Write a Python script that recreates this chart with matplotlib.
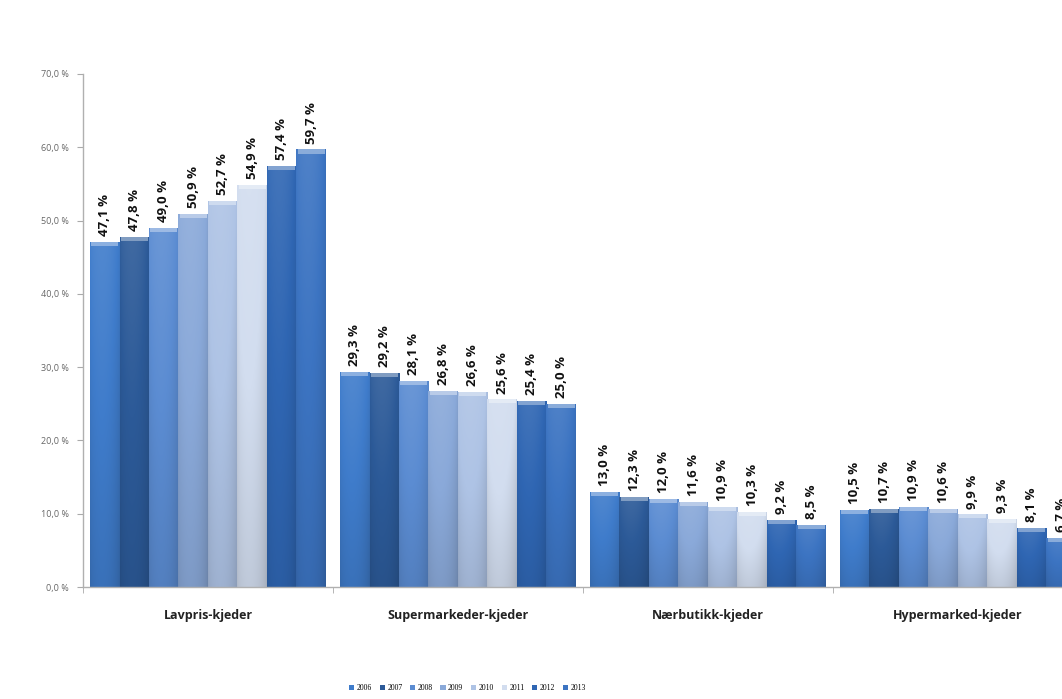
import matplotlib
matplotlib.use("Agg")
import matplotlib.pyplot as plt
import matplotlib.colors as mcolors
import numpy as np

# Markedsandeler per kjedeformat, 2006-2013
categories = ['Lavpris-kjeder', 'Supermarkeder-kjeder', 'Nærbutikk-kjeder', 'Hypermarked-kjeder']
years = ['2006', '2007', '2008', '2009', '2010', '2011', '2012', '2013']
values = {
    '2006': [47.1, 29.3, 13.0, 10.5],
    '2007': [47.8, 29.2, 12.3, 10.7],
    '2008': [49.0, 28.1, 12.0, 10.9],
    '2009': [50.9, 26.8, 11.6, 10.6],
    '2010': [52.7, 26.6, 10.9, 9.9],
    '2011': [54.9, 25.6, 10.3, 9.3],
    '2012': [57.4, 25.4, 9.2, 8.1],
    '2013': [59.7, 25.0, 8.5, 6.7],
}
colors = ['#3f7ccb', '#2c5a98', '#5b8cd2', '#8aa9d9', '#aec3e5', '#d2ddef', '#2f66b3', '#3c74c2']

plt.rcParams['font.family'] = ['Open Sans', 'DejaVu Sans']

fig = plt.figure(figsize=(10.62, 6.99), dpi=100)
ax = fig.add_axes([83 / 1062, 112 / 699, 1000 / 1062, 513 / 699])

x = np.arange(len(categories))
bw = 0.118


def shade(c, f):
    r, g, b = mcolors.to_rgb(c)
    if f >= 0:
        return (r + (1 - r) * f, g + (1 - g) * f, b + (1 - b) * f)
    return (r * (1 + f), g * (1 + f), b * (1 + f))


# brightness profile across and down a bar (rounded, darker edges / bottom)
u = np.linspace(0, 1, 40)
xprof = 0.10 * np.sin(np.pi * u) ** 0.6 - 0.16 + 0.06 * (1 - u)
vprof = np.linspace(0.04, -0.14, 80)


def bar_image(base):
    rgb = np.array(mcolors.to_rgb(base))
    f = xprof[None, :] + vprof[:, None] + 0.08
    img = np.where(f[..., None] >= 0,
                   rgb + (1 - rgb) * f[..., None],
                   rgb * (1 + f[..., None]))
    return np.clip(img, 0, 1)


for j, yr in enumerate(years):
    base = colors[j]
    bars = ax.bar(x + (j - 3.5) * bw, values[yr], width=bw, color=base,
                  edgecolor='none', zorder=2, label=yr)
    img = bar_image(base)
    for b, v in zip(bars, values[yr]):
        x0, w = b.get_x(), b.get_width()
        im = ax.imshow(img, aspect='auto', zorder=2.5,
                       extent=(x0, x0 + w, 0, v), interpolation='bilinear')
        im.set_clip_path(b)
        # lighter cap at the top of the bar
        ax.bar(x0 + w / 2, 0.55, bottom=v - 0.55, width=w * 0.9,
               color=shade(base, 0.4), edgecolor='none', zorder=3)
        ax.text(x0 + w / 2, v + 0.8, f'{v:.1f} %'.replace('.', ','),
                rotation=90, ha='center', va='bottom', fontsize=9.5,
                fontweight='bold', color='#111111', zorder=4)

ax.set_xlim(-0.5, 3.5)
ax.set_ylim(0, 70)
ax.set_yticks(np.arange(0, 71, 10))
ax.set_yticklabels([f'{t:.1f} %'.replace('.', ',') for t in np.arange(0, 71, 10)],
                   fontsize=6.5, color='#666666')
ax.set_xticks(x)
ax.set_xticklabels(categories, fontsize=9, fontweight='bold', color='#222222')
ax.set_xticks(np.arange(-0.5, 4, 1), minor=True)
ax.tick_params(axis='x', which='major', length=0, pad=16)
ax.tick_params(axis='x', which='minor', length=4, color='#aaaaaa', direction='out')
ax.tick_params(axis='y', length=4, color='#aaaaaa', pad=6)

for s in ['top', 'right']:
    ax.spines[s].set_visible(False)
for s in ['left', 'bottom']:
    ax.spines[s].set_color('#b0b0b0')
    ax.spines[s].set_linewidth(1.0)

fig.legend(loc='lower center', bbox_to_anchor=(0.44, 0.0), ncol=8, frameon=False,
           handlelength=0.7, handleheight=0.7, handletextpad=0.3,
           columnspacing=1.0, prop={'family': 'Liberation Serif', 'size': 5.5})

fig.savefig('out.png', dpi=100, facecolor='white')
